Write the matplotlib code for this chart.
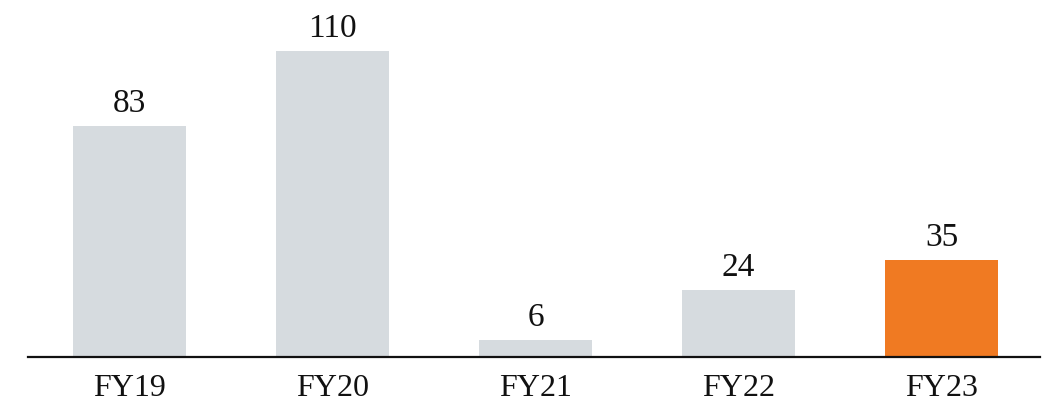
import matplotlib
matplotlib.use("Agg")
import matplotlib.pyplot as plt

categories = ["FY19", "FY20", "FY21", "FY22", "FY23"]
values = [83, 110, 6, 24, 35]
colors = ["#d6dbdf", "#d6dbdf", "#d6dbdf", "#d6dbdf", "#f07a22"]

plt.rcParams["font.family"] = ["Liberation Serif", "DejaVu Serif"]

fig = plt.figure(figsize=(10.53, 4.04), dpi=100)
ax = fig.add_axes([0.0, (404 - 357) / 404, 1.0, 357 / 404])

x = list(range(len(categories)))
bars = ax.bar(x, values, width=0.556, color=colors, zorder=2)
for xi, v in zip(x, values):
    ax.annotate(str(v), (xi, v), xytext=(0, 5), textcoords="offset points",
                ha="center", va="bottom", fontsize=24, color="#111111")

# map x so that the axis line runs from ~28px to ~1040px
step = 203 / 1053
x0 = 129.5 / 1053
ax.set_xlim(-x0 / step, (1 - x0) / step)
ax.set_ylim(0, 357 / 2.782)

for s in ["top", "right", "left", "bottom"]:
    ax.spines[s].set_visible(False)
lo = -0.5
hi = (1040 / 1053 - x0) / step
ax.plot([lo, hi], [0, 0], color="#111111", lw=1.6, zorder=3, clip_on=False)

ax.set_yticks([])
ax.set_xticks(x)
ax.set_xticklabels(categories, fontsize=23, color="#111111")
ax.tick_params(axis="x", length=0, pad=12)

fig.savefig("out.png", dpi=100)
